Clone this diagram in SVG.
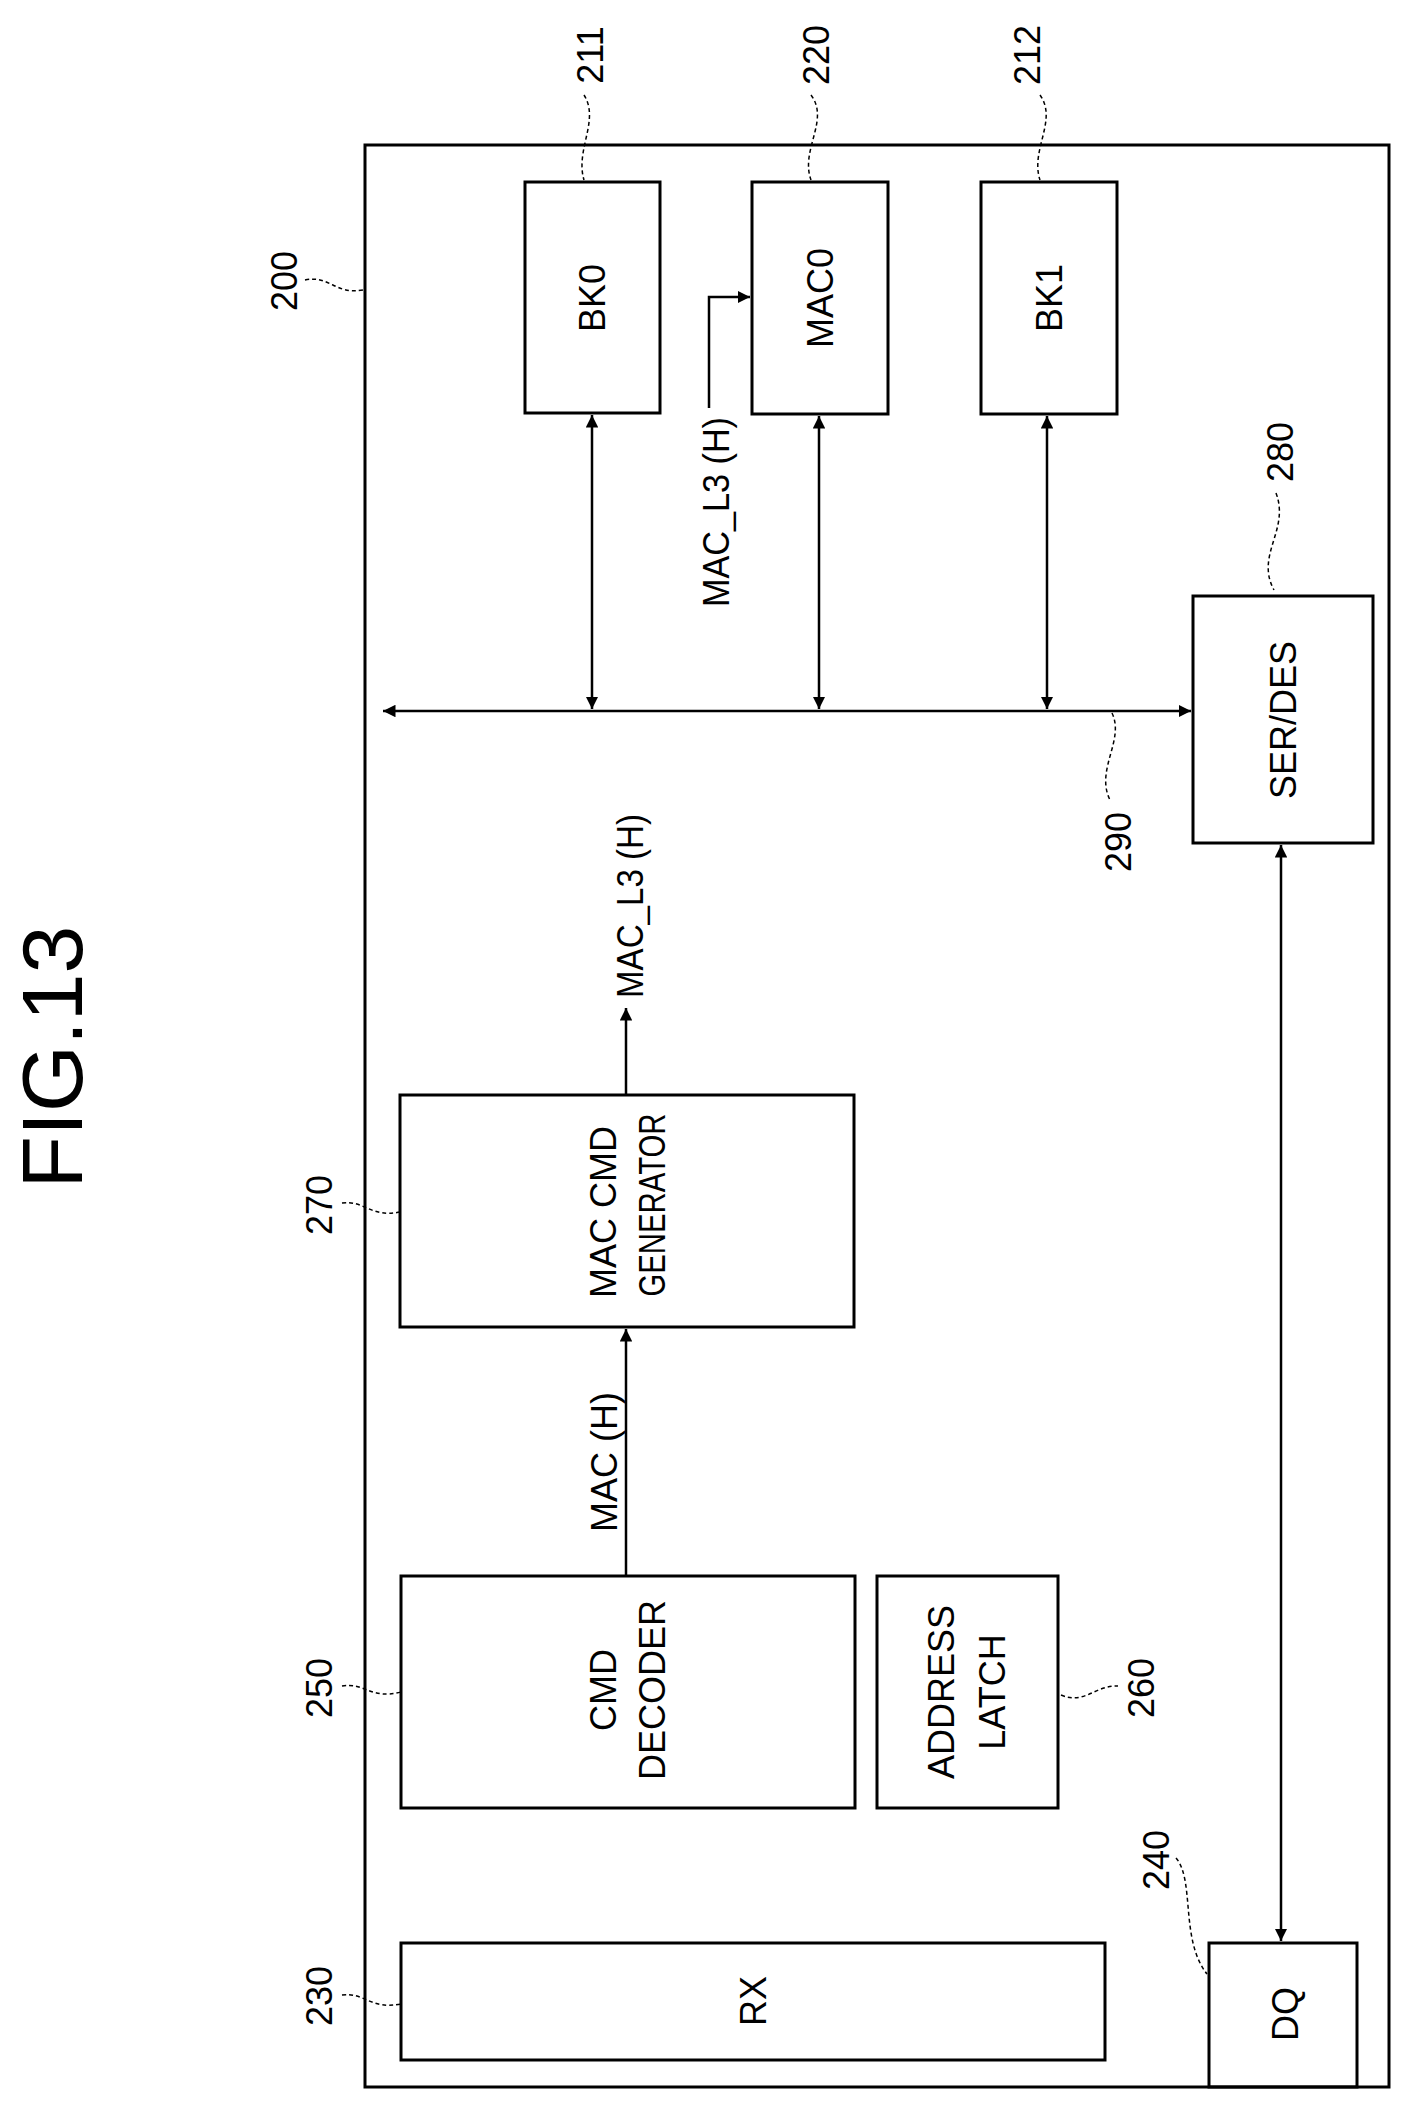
<svg xmlns="http://www.w3.org/2000/svg" width="1412" height="2111" viewBox="0 0 1412 2111">
<style>
.b{fill:none;stroke:#000;stroke-width:3}
.w{fill:none;stroke:#000;stroke-width:2.5}
.l{fill:none;stroke:#000;stroke-width:1.5;stroke-dasharray:4 3}
text{font-family:"Liberation Sans",sans-serif;font-size:36px;fill:#000;text-anchor:middle;dominant-baseline:central}
.s{text-anchor:start}
</style>
<defs>
<marker id="a" viewBox="0 0 10 10" refX="10" refY="5" markerWidth="5" markerHeight="5" orient="auto-start-reverse"><path d="M0,0 L10,5 L0,10 z" fill="#000"/></marker>
</defs>
<text transform="translate(52,1057) rotate(-90)" style="font-size:86px">FIG.13</text>
<g id="n200"><rect class="b" x="365" y="145" width="1024" height="1942"/><text transform="translate(284,281) rotate(-90)">200</text><path class="l" d="M305,280 C330,275 335,295 363,290"/></g>
<g id="n211"><rect class="b" x="525" y="182" width="135" height="231"/><text transform="translate(592,298) rotate(-90)">BK0</text><text transform="translate(590,55) rotate(-90)">211</text><path class="l" d="M584,95 C600,120 575,150 584,180"/></g>
<g id="n220"><rect class="b" x="752" y="182" width="136" height="232"/><text transform="translate(820,298) rotate(-90)">MAC0</text><text transform="translate(816,55) rotate(-90)">220</text><path class="l" d="M811,95 C830,120 800,150 811,180"/></g>
<g id="n212"><rect class="b" x="981" y="182" width="136" height="232"/><text transform="translate(1049,298) rotate(-90)">BK1</text><text transform="translate(1027,55) rotate(-90)">212</text><path class="l" d="M1040,95 C1058,120 1030,150 1040,180"/></g>
<g id="n280"><rect class="b" x="1193" y="596" width="180" height="247"/><text transform="translate(1283,720) rotate(-90)">SER/DES</text><text transform="translate(1280,452) rotate(-90)">280</text><path class="l" d="M1276,493 C1290,530 1255,555 1274,590"/></g>
<g id="n270"><rect class="b" x="400" y="1095" width="454" height="232"/><text transform="translate(603,1212) rotate(-90)">MAC CMD</text><text transform="translate(652,1205) rotate(-90)" textLength="183" lengthAdjust="spacingAndGlyphs">GENERATOR</text><text transform="translate(319,1205) rotate(-90)">270</text><path class="l" d="M342,1203 C365,1200 370,1218 400,1212"/></g>
<g id="n250"><rect class="b" x="401" y="1576" width="454" height="232"/><text transform="translate(603,1690) rotate(-90)">CMD</text><text transform="translate(652,1690) rotate(-90)">DECODER</text><text transform="translate(319,1688) rotate(-90)">250</text><path class="l" d="M342,1686 C365,1682 370,1700 401,1692"/></g>
<g id="n260"><rect class="b" x="877" y="1576" width="181" height="232"/><text transform="translate(941,1692) rotate(-90)">ADDRESS</text><text transform="translate(992,1692) rotate(-90)">LATCH</text><text transform="translate(1141,1688) rotate(-90)">260</text><path class="l" d="M1061,1695 C1085,1705 1095,1685 1118,1686"/></g>
<g id="n230"><rect class="b" x="401" y="1943" width="704" height="117"/><text transform="translate(753,2001) rotate(-90)">RX</text><text transform="translate(319,1996) rotate(-90)">230</text><path class="l" d="M342,1995 C365,1992 370,2010 401,2004"/></g>
<g id="n240"><rect class="b" x="1209" y="1943" width="148" height="144"/><text transform="translate(1285,2014) rotate(-90)">DQ</text><text transform="translate(1156,1860) rotate(-90)">240</text><path class="l" d="M1176,1858 C1195,1880 1180,1940 1207,1974"/></g>
<g id="n290"><text transform="translate(1118,842) rotate(-90)">290</text><path class="l" d="M1112,713 C1125,740 1095,770 1110,800"/></g>
<g id="connectors">
<path class="w" d="M383,711 H1191" marker-start="url(#a)" marker-end="url(#a)"/>
<path class="w" d="M592,415 V709" marker-start="url(#a)" marker-end="url(#a)"/>
<path class="w" d="M819,416 V709" marker-start="url(#a)" marker-end="url(#a)"/>
<path class="w" d="M1047,416 V709" marker-start="url(#a)" marker-end="url(#a)"/>
<path class="w" d="M1281,845 V1941" marker-start="url(#a)" marker-end="url(#a)"/>
<path class="w" d="M709,408 V297 H750" marker-end="url(#a)"/>
<text class="s" transform="translate(716,607) rotate(-90)" textLength="190" lengthAdjust="spacingAndGlyphs">MAC_L3 (H)</text>
<path class="w" d="M626,1576 V1329" marker-end="url(#a)"/>
<text transform="translate(604,1462) rotate(-90)">MAC (H)</text>
<path class="w" d="M626,1095 V1008" marker-end="url(#a)"/>
<text class="s" transform="translate(630,998) rotate(-90)" textLength="184" lengthAdjust="spacingAndGlyphs">MAC_L3 (H)</text>
</g>
</svg>
